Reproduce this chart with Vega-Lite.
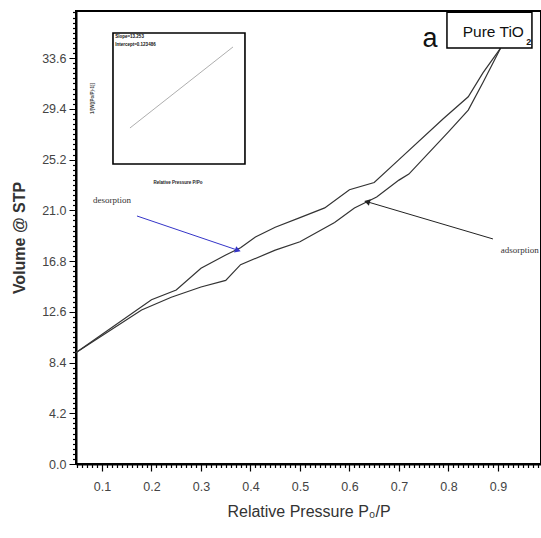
{
  "$schema": "https://vega.github.io/schema/vega-lite/v6.json",
  "width": 465,
  "height": 453,
  "autosize": {"type": "none"},
  "padding": {"left": 76, "top": 11, "right": 0, "bottom": 74},
  "background": "white",
  "config": {
    "view": {"stroke": "black", "strokeWidth": 2},
    "font": "Liberation Sans"
  },
  "datasets": {
    "adsorption": [
      {"p": 0.047, "v": 9.2}, {"p": 0.18, "v": 12.75}, {"p": 0.24, "v": 13.8},
      {"p": 0.30, "v": 14.65}, {"p": 0.35, "v": 15.2}, {"p": 0.38, "v": 16.5},
      {"p": 0.45, "v": 17.7}, {"p": 0.50, "v": 18.4}, {"p": 0.57, "v": 20.0},
      {"p": 0.61, "v": 21.2}, {"p": 0.655, "v": 22.1}, {"p": 0.70, "v": 23.5},
      {"p": 0.72, "v": 24.0}, {"p": 0.80, "v": 27.5}, {"p": 0.84, "v": 29.3},
      {"p": 0.87, "v": 31.6}, {"p": 0.905, "v": 34.4}
    ],
    "desorption": [
      {"p": 0.047, "v": 9.2}, {"p": 0.20, "v": 13.6}, {"p": 0.25, "v": 14.4},
      {"p": 0.30, "v": 16.2}, {"p": 0.35, "v": 17.3}, {"p": 0.38, "v": 17.9},
      {"p": 0.41, "v": 18.8}, {"p": 0.45, "v": 19.6}, {"p": 0.50, "v": 20.4},
      {"p": 0.55, "v": 21.2}, {"p": 0.60, "v": 22.7}, {"p": 0.65, "v": 23.3},
      {"p": 0.70, "v": 25.2}, {"p": 0.79, "v": 28.6}, {"p": 0.84, "v": 30.4},
      {"p": 0.87, "v": 32.4}, {"p": 0.905, "v": 34.4}
    ],
    "arrows": [
      {"label": "desorption", "p": 0.1707, "v": 20.53, "p2": 0.3727, "v2": 17.72},
      {"label": "adsorption", "p": 0.8899, "v": 18.63, "p2": 0.6374, "v2": 21.69}
    ],
    "arrowHeads": [
      {"label": "desorption", "p": 0.3727, "v": 17.72},
      {"label": "adsorption", "p": 0.6374, "v": 21.69}
    ],
    "curveLabels": [
      {"text": "desorption", "p": 0.12, "v": 21.85},
      {"text": "adsorption", "p": 0.944, "v": 17.7}
    ],
    "sampleBox": [{"p": 0.797, "p2": 0.9687, "v": 37.4, "v2": 34.44}],
    "insetFrame": [{"p": 0.12222, "p2": 0.38889, "v": 24.834, "v2": 35.678}],
    "insetLine": [{"p": 0.15656, "v": 27.816}, {"p": 0.36469, "v": 34.523}],
    "insetXTicks": [
      {"p": 0.14824, "label": "0.04"}, {"p": 0.17425, "label": "0.06"},
      {"p": 0.20027, "label": "0.08"}, {"p": 0.22628, "label": "0.10"},
      {"p": 0.25230, "label": "0.12"}, {"p": 0.27832, "label": "0.14"},
      {"p": 0.30433, "label": "0.16"}, {"p": 0.33035, "label": "0.18"},
      {"p": 0.35636, "label": "0.20"}, {"p": 0.38238, "label": "0.22"}
    ],
    "insetYTicks": [
      {"v": 24.834, "label": "0.0"}, {"v": 26.013, "label": "1.0"},
      {"v": 27.191, "label": "2.0"}, {"v": 28.370, "label": "3.0"},
      {"v": 29.549, "label": "4.0"}, {"v": 30.728, "label": "5.0"},
      {"v": 31.906, "label": "6.0"}, {"v": 33.085, "label": "7.0"},
      {"v": 34.264, "label": "8.0"}, {"v": 35.443, "label": "9.0"}
    ],
    "insetNotes": [
      {"text": "Slope=13.253", "p": 0.12677, "v": 35.348},
      {"text": "Intercept=0.123486", "p": 0.12677, "v": 34.688}
    ]
  },
  "encoding": {
    "x": {
      "field": "p", "type": "quantitative",
      "scale": {"domain": [0.0475, 0.987], "nice": false, "zero": false},
      "axis": {
        "values": [0.05,0.06,0.07,0.08,0.09,0.1,0.11,0.12,0.13,0.14,0.15,0.16,0.17,0.18,0.19,0.2,0.21,0.22,0.23,0.24,0.25,0.26,0.27,0.28,0.29,0.3,0.31,0.32,0.33,0.34,0.35,0.36,0.37,0.38,0.39,0.4,0.41,0.42,0.43,0.44,0.45,0.46,0.47,0.48,0.49,0.5,0.51,0.52,0.53,0.54,0.55,0.56,0.57,0.58,0.59,0.6,0.61,0.62,0.63,0.64,0.65,0.66,0.67,0.68,0.69,0.7,0.71,0.72,0.73,0.74,0.75,0.76,0.77,0.78,0.79,0.8,0.81,0.82,0.83,0.84,0.85,0.86,0.87,0.88,0.89,0.9,0.91,0.92,0.93,0.94,0.95,0.96,0.97,0.98],
        "labelExpr": "abs(datum.value * 10 - round(datum.value * 10)) < 0.001 ? format(datum.value, '.1f') : ''",
        "labelOverlap": false, "grid": false,
        "title": "Relative Pressure  P₀/P",
        "domainColor": "black", "domainWidth": 2,
        "tickColor": "black", "tickSize": 7, "tickWidth": 1.2,
        "tickDash": {"condition": {"test": "abs(datum.value * 10 - round(datum.value * 10)) < 0.001", "value": [1, 0]}, "value": [3.5, 20]},
        "labelFont": "Liberation Sans", "labelFontSize": 12.5, "labelColor": "#444",
        "labelPadding": 9,
        "titleFont": "Liberation Sans", "titleFontSize": 16,
        "titleFontWeight": "normal", "titleColor": "#333", "titlePadding": 11
      }
    },
    "y": {
      "field": "v", "type": "quantitative",
      "scale": {"domain": [0, 37.5], "nice": false, "zero": false},
      "axis": {
        "values": [0,0.42,0.84,1.26,1.68,2.1,2.52,2.94,3.36,3.78,4.2,4.62,5.04,5.46,5.88,6.3,6.72,7.14,7.56,7.98,8.4,8.82,9.24,9.66,10.08,10.5,10.92,11.34,11.76,12.18,12.6,13.02,13.44,13.86,14.28,14.7,15.12,15.54,15.96,16.38,16.8,17.22,17.64,18.06,18.48,18.9,19.32,19.74,20.16,20.58,21,21.42,21.84,22.26,22.68,23.1,23.52,23.94,24.36,24.78,25.2,25.62,26.04,26.46,26.88,27.3,27.72,28.14,28.56,28.98,29.4,29.82,30.24,30.66,31.08,31.5,31.92,32.34,32.76,33.18,33.6,34.02,34.44,34.86,35.28,35.7,36.12,36.54,36.96,37.38],
        "labelExpr": "abs(datum.value / 4.2 - round(datum.value / 4.2)) < 0.001 ? format(datum.value, '.1f') : ''",
        "labelOverlap": false, "grid": false,
        "title": "Volume @ STP",
        "domainColor": "black", "domainWidth": 2,
        "tickColor": "black", "tickSize": 7, "tickWidth": 1.2,
        "tickDash": {"condition": {"test": "abs(datum.value / 4.2 - round(datum.value / 4.2)) < 0.001", "value": [1, 0]}, "value": [3.5, 20]},
        "labelFont": "Liberation Sans", "labelFontSize": 12.5, "labelColor": "#444",
        "labelPadding": 3,
        "titleFont": "Liberation Sans", "titleFontSize": 16,
        "titleFontWeight": "bold", "titleColor": "#333", "titlePadding": 14
      }
    }
  },
  "layer": [
    {"data": {"name": "adsorption"}, "mark": {"type": "line", "color": "#333", "strokeWidth": 1.2}},
    {"data": {"name": "desorption"}, "mark": {"type": "line", "color": "#333", "strokeWidth": 1.2}},
    {
      "data": {"name": "arrows"},
      "mark": {"type": "rule", "strokeWidth": 1},
      "encoding": {
        "x2": {"field": "p2"}, "y2": {"field": "v2"},
        "color": {"field": "label", "type": "nominal", "legend": null,
                  "scale": {"domain": ["desorption", "adsorption"], "range": ["#3535c8", "#222"]}}
      }
    },
    {
      "data": {"name": "arrowHeads"},
      "transform": [{"filter": "datum.label === 'desorption'"}],
      "mark": {"type": "point", "shape": "triangle", "filled": true, "size": 45, "angle": 109, "color": "#3535c8", "opacity": 1}
    },
    {
      "data": {"name": "arrowHeads"},
      "transform": [{"filter": "datum.label === 'adsorption'"}],
      "mark": {"type": "point", "shape": "triangle", "filled": true, "size": 45, "angle": 286, "color": "#222", "opacity": 1}
    },
    {
      "data": {"name": "curveLabels"},
      "mark": {"type": "text", "font": "Liberation Serif", "fontSize": 9, "color": "#333", "align": "center", "baseline": "middle"},
      "encoding": {"text": {"field": "text"}}
    },
    {
      "data": {"name": "sampleBox"},
      "mark": {"type": "rect", "fill": "white", "stroke": "black", "strokeWidth": 1.5},
      "encoding": {"x2": {"field": "p2"}, "y2": {"field": "v2"}}
    },
    {
      "data": {"values": [{"text": "Pure TiO", "p": 0.9525, "v": 35.35}]},
      "mark": {"type": "text", "font": "Liberation Sans", "fontSize": 15.5, "color": "#111", "align": "right", "baseline": "alphabetic"},
      "encoding": {"text": {"field": "text"}}
    },
    {
      "data": {"values": [{"text": "2", "p": 0.957, "v": 34.7}]},
      "mark": {"type": "text", "font": "Liberation Sans", "fontSize": 9, "fontWeight": "bold", "color": "#111", "align": "left", "baseline": "alphabetic"},
      "encoding": {"text": {"field": "text"}}
    },
    {
      "data": {"values": [{"text": "a", "p": 0.7626, "v": 34.5}]},
      "mark": {"type": "text", "font": "Liberation Sans", "fontSize": 27, "color": "#111", "align": "center", "baseline": "alphabetic"},
      "encoding": {"text": {"field": "text"}}
    },
    {
      "data": {"name": "insetFrame"},
      "mark": {"type": "rect", "fill": "white", "stroke": "black", "strokeWidth": 1.6},
      "encoding": {"x2": {"field": "p2"}, "y2": {"field": "v2"}}
    },
    {
      "data": {"name": "insetLine"},
      "mark": {"type": "line", "color": "#999", "strokeWidth": 0.8}
    },
    {
      "data": {"name": "insetXTicks"},
      "mark": {"type": "rule", "color": "black", "strokeWidth": 1},
      "encoding": {"y": {"datum": 24.834}, "y2": {"datum": 24.539}}
    },
    {
      "data": {"name": "insetYTicks"},
      "mark": {"type": "rule", "color": "black", "strokeWidth": 1},
      "encoding": {"x": {"datum": 0.12222}, "x2": {"datum": 0.11637}}
    },
    {
      "data": {"name": "insetXTicks"},
      "mark": {"type": "text", "fontSize": 4, "color": "#444", "align": "center", "baseline": "top"},
      "encoding": {"y": {"datum": 24.304}, "text": {"field": "label"}}
    },
    {
      "data": {"name": "insetYTicks"},
      "mark": {"type": "text", "fontSize": 4, "color": "#444", "align": "right", "baseline": "middle"},
      "encoding": {"x": {"datum": 0.11246}, "text": {"field": "label"}}
    },
    {
      "data": {"name": "insetNotes"},
      "mark": {"type": "text", "fontSize": 4.5, "fontWeight": "bold", "color": "#111", "align": "left", "baseline": "middle"},
      "encoding": {"text": {"field": "text"}}
    },
    {
      "data": {"values": [{"text": "Relative Pressure P/Po", "p": 0.2536, "v": 23.243}]},
      "mark": {"type": "text", "fontSize": 4.5, "fontWeight": "bold", "color": "#222", "align": "center", "baseline": "middle"},
      "encoding": {"text": {"field": "text"}}
    },
    {
      "data": {"values": [{"text": "1/[W((Po/P)-1)]", "p": 0.08124, "v": 30.256}]},
      "mark": {"type": "text", "fontSize": 4.5, "fontWeight": "bold", "color": "#444", "align": "center", "baseline": "middle", "angle": 270},
      "encoding": {"text": {"field": "text"}}
    }
  ]
}
